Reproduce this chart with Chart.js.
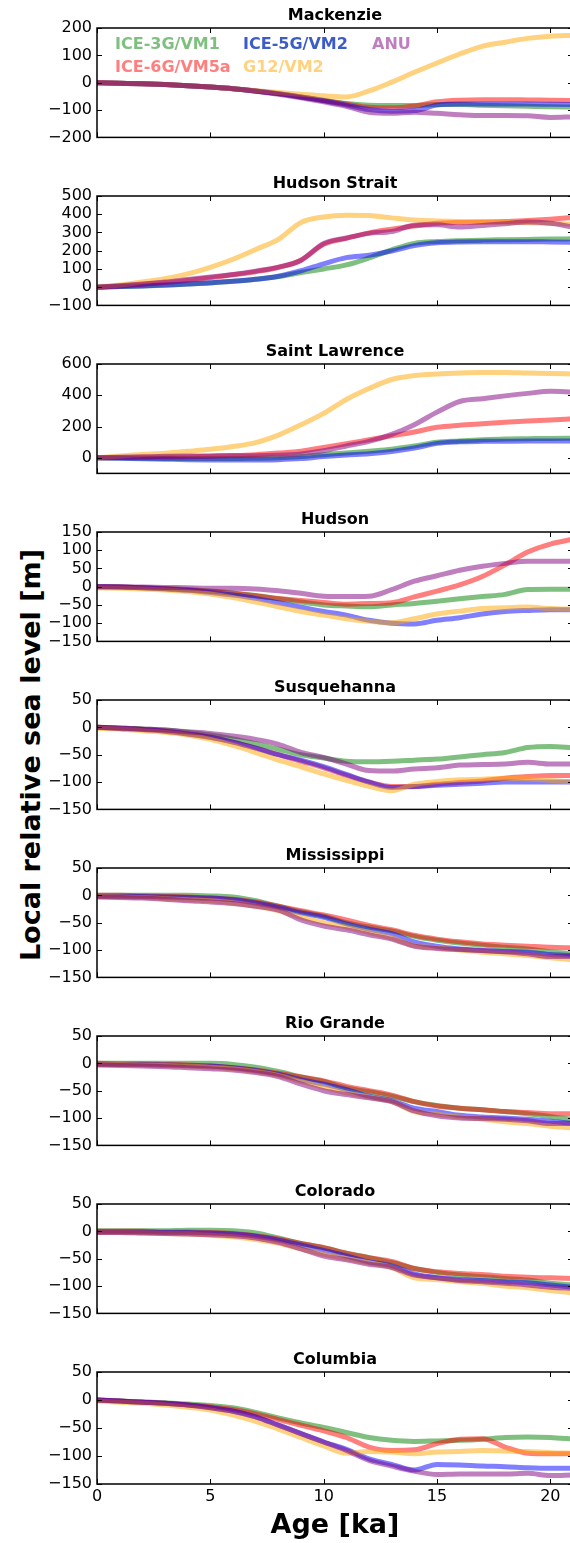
<!DOCTYPE html>
<html>
<head>
<meta charset="utf-8">
<script src="https://cdn.jsdelivr.net/npm/chart.js@4.4.1/dist/chart.umd.min.js"></script>
<style>
  html, body { margin: 0; padding: 0; background: #fff; }
  body { width: 570px; height: 1543px; position: relative; overflow: hidden; }
  canvas { position: absolute; left: 0; }
  #ylabel {
    position: absolute; left: 30px; top: 755px;
    font: bold 27px "DejaVu Sans"; white-space: nowrap;
    transform: translate(-50%, -50%) rotate(-90deg);
  }
</style>
</head>
<body>
<div id="ylabel">Local relative sea level [m]</div>
<script>
// ages in ka (shared x values)
const ages = [0, 1, 2, 3, 4, 5, 6, 7, 8, 9, 10, 11, 12, 13, 14, 15, 16, 17, 18, 19, 20, 21];
const xTicks = [0, 5, 10, 15, 20];

const models = ['ICE-3G/VM1', 'ICE-6G/VM5a', 'ICE-5G/VM2', 'G12/VM2', 'ANU'];

// Mackenzie
const mackIce3g = [0, -2, -4, -7, -11, -16, -22, -30, -40, -52, -64, -76, -82, -83, -83, -80, -80, -82, -84, -86, -88, -89];
const mackIce6g = [0, -2, -4, -7, -11, -16, -22, -30, -40, -52, -65, -78, -90, -92, -85, -70, -64, -62, -62, -63, -64, -65];
const mackIce5g = [0, -2, -4, -7, -11, -16, -22, -30, -40, -52, -66, -82, -98, -104, -102, -82, -78, -78, -78, -78, -79, -80];
const mackG12 = [0, -2, -4, -7, -11, -16, -22, -29, -36, -42, -48, -52, -30, 2, 38, 72, 105, 133, 148, 162, 170, 173];
const mackAnu = [0, -2, -4, -7, -11, -16, -22, -31, -42, -55, -70, -86, -108, -112, -108, -112, -117, -120, -120, -121, -127, -125];

// Hudson Strait
const hstrIce3g = [0, 3, 7, 11, 17, 23, 32, 43, 58, 80, 100, 122, 160, 205, 240, 250, 255, 258, 260, 262, 264, 265];
const hstrIce6g = [0, 7, 15, 25, 38, 52, 68, 85, 108, 148, 235, 268, 298, 318, 335, 350, 355, 357, 360, 366, 373, 382];
const hstrIce5g = [0, 3, 7, 12, 17, 24, 32, 43, 60, 90, 128, 162, 175, 198, 228, 243, 248, 249, 249, 249, 248, 247];
const hstrG12 = [0, 12, 29, 46, 73, 109, 153, 207, 262, 355, 385, 395, 393, 380, 368, 363, 360, 358, 356, 353, 350, 345];
const hstrAnu = [0, 8, 17, 28, 42, 56, 70, 88, 110, 148, 240, 270, 295, 305, 340, 342, 330, 338, 348, 358, 350, 330];

// Saint Lawrence
const stlIce3g = [0, -2, -3, -4, -5, -5, -5, -3, 0, 8, 20, 30, 42, 55, 75, 100, 108, 115, 120, 122, 124, 125];
const stlIce6g = [0, 2, 3, 5, 7, 10, 14, 20, 30, 42, 66, 90, 115, 140, 165, 195, 208, 218, 228, 236, 242, 250];
const stlIce5g = [0, -3, -6, -9, -12, -14, -15, -15, -12, -5, 8, 18, 25, 40, 62, 92, 102, 105, 106, 107, 107, 107];
const stlG12 = [0, 12, 21, 29, 41, 54, 72, 97, 145, 211, 284, 373, 443, 501, 526, 536, 542, 545, 545, 542, 540, 536];
const stlAnu = [0, 3, 6, 9, 11, 12, 13, 13, 16, 25, 45, 75, 105, 150, 212, 292, 360, 378, 396, 412, 425, 420];

// Hudson
const hudIce3g = [0, -1, -3, -5, -8, -12, -17, -24, -33, -42, -50, -53, -55, -50, -46, -40, -33, -27, -21, -8, -7, -7];
const hudIce6g = [0, -1, -3, -5, -9, -13, -18, -25, -32, -38, -43, -48, -46, -44, -28, -12, 5, 28, 60, 95, 117, 130];
const hudIce5g = [0, -1, -3, -6, -10, -16, -23, -32, -44, -56, -68, -78, -92, -100, -102, -92, -85, -75, -68, -65, -63, -63];
const hudG12 = [-3, -4, -6, -9, -13, -20, -30, -42, -55, -68, -78, -88, -95, -99, -88, -75, -67, -60, -58, -56, -60, -62];
const hudAnu = [0, 0, -1, -2, -3, -4, -4, -6, -11, -18, -26, -27, -26, -8, 15, 30, 45, 56, 64, 70, 70, 70];

// Susquehanna
const susIce3g = [0, -1, -3, -5, -9, -14, -21, -30, -40, -50, -56, -62, -63, -62, -60, -58, -54, -50, -46, -37, -35, -37];
const susIce6g = [0, -2, -4, -7, -12, -18, -27, -38, -50, -62, -74, -88, -100, -108, -108, -104, -101, -98, -93, -90, -88, -88];
const susIce5g = [0, -2, -4, -7, -12, -18, -27, -38, -50, -60, -72, -86, -100, -110, -108, -106, -104, -102, -100, -100, -100, -100];
const susG12 = [-2, -3, -6, -9, -14, -22, -33, -46, -60, -72, -85, -97, -108, -116, -104, -99, -96, -95, -93, -94, -97, -100];
const susAnu = [0, -1, -3, -5, -8, -11, -16, -22, -31, -46, -55, -67, -79, -80, -76, -74, -69, -68, -67, -64, -67, -67];

// Mississippi
const misIce3g = [0, 0, 0, 0, 0, -1, -3, -10, -20, -30, -38, -50, -58, -65, -75, -82, -87, -91, -95, -98, -103, -107];
const misIce6g = [0, 0, -1, -2, -3, -5, -7, -12, -20, -28, -36, -45, -55, -63, -73, -80, -85, -89, -91, -93, -95, -96];
const misIce5g = [-2, -2, -2, -3, -4, -5, -8, -14, -22, -32, -40, -52, -62, -70, -85, -93, -98, -101, -103, -104, -108, -110];
const misG12 = [-2, -3, -4, -6, -8, -10, -14, -20, -28, -40, -50, -58, -68, -78, -92, -96, -100, -104, -107, -110, -114, -118];
const misAnu = [-3, -4, -5, -7, -10, -12, -15, -20, -27, -45, -56, -63, -72, -80, -93, -97, -99, -101, -103, -107, -112, -112];

// Rio Grande
const rioIce3g = [0, 0, 0, 0, 0, 0, -2, -7, -15, -25, -33, -45, -52, -60, -70, -77, -82, -85, -88, -92, -97, -103];
const rioIce6g = [0, -1, -1, -2, -3, -5, -8, -12, -18, -25, -32, -42, -50, -58, -70, -78, -82, -85, -88, -90, -92, -92];
const rioIce5g = [-2, -2, -2, -3, -4, -5, -8, -13, -20, -30, -38, -48, -60, -68, -82, -88, -95, -98, -100, -102, -106, -110];
const rioG12 = [-2, -2, -3, -4, -5, -7, -10, -15, -22, -33, -44, -54, -62, -70, -88, -93, -98, -102, -107, -110, -115, -118];
const rioAnu = [-3, -4, -5, -6, -8, -10, -12, -17, -24, -38, -50, -57, -63, -70, -87, -96, -100, -101, -102, -105, -110, -110];

// Colorado
const colIce3g = [1, 1, 1, 1, 2, 2, 1, -3, -12, -22, -30, -40, -48, -57, -68, -75, -80, -83, -86, -89, -95, -98];
const colIce6g = [0, 0, 0, -1, -1, -2, -4, -8, -14, -22, -30, -40, -48, -55, -68, -74, -77, -79, -82, -84, -85, -86];
const colIce5g = [-1, -1, -1, -2, -2, -3, -5, -9, -16, -25, -35, -45, -56, -63, -78, -85, -88, -90, -92, -94, -98, -102];
const colG12 = [-2, -2, -3, -4, -5, -7, -10, -15, -22, -32, -42, -50, -58, -66, -85, -88, -92, -95, -100, -103, -108, -112];
const colAnu = [-2, -2, -3, -4, -5, -6, -8, -12, -20, -32, -45, -52, -60, -66, -80, -85, -90, -92, -95, -98, -102, -104];

// Columbia
const cbaIce3g = [0, -2, -3, -5, -7, -10, -14, -22, -32, -41, -49, -58, -67, -72, -74, -73, -72, -70, -67, -66, -67, -70];
const cbaIce6g = [0, -2, -4, -6, -9, -12, -17, -25, -35, -45, -55, -67, -84, -90, -89, -78, -70, -69, -84, -95, -96, -96];
const cbaIce5g = [0, -2, -4, -6, -9, -14, -20, -30, -45, -60, -75, -88, -105, -115, -125, -115, -116, -118, -119, -121, -122, -122];
const cbaG12 = [-2, -4, -6, -9, -13, -18, -27, -38, -52, -67, -82, -95, -92, -93, -96, -93, -92, -90, -91, -92, -94, -95];
const cbaAnu = [0, -2, -4, -6, -9, -14, -20, -30, -45, -60, -75, -90, -108, -118, -127, -133, -132, -132, -132, -131, -135, -134];

// y tick labels per panel
const ticksMack = [-200, -100, 0, 100, 200];
const ticksHstr = [-100, 0, 100, 200, 300, 400, 500];
const ticksStl = [0, 200, 400, 600];
const ticksHud = [-150, -100, -50, 0, 50, 100, 150];
const ticksLow = [-150, -100, -50, 0, 50];

const panels = [
  { title: 'Mackenzie', min: -200, max: 200, ticks: ticksMack, series: [mackIce3g, mackIce6g, mackIce5g, mackG12, mackAnu] },
  { title: 'Hudson Strait', min: -100, max: 500, ticks: ticksHstr, series: [hstrIce3g, hstrIce6g, hstrIce5g, hstrG12, hstrAnu] },
  { title: 'Saint Lawrence', min: -100, max: 600, ticks: ticksStl, series: [stlIce3g, stlIce6g, stlIce5g, stlG12, stlAnu] },
  { title: 'Hudson', min: -150, max: 150, ticks: ticksHud, series: [hudIce3g, hudIce6g, hudIce5g, hudG12, hudAnu] },
  { title: 'Susquehanna', min: -150, max: 50, ticks: ticksLow, series: [susIce3g, susIce6g, susIce5g, susG12, susAnu] },
  { title: 'Mississippi', min: -150, max: 50, ticks: ticksLow, series: [misIce3g, misIce6g, misIce5g, misG12, misAnu] },
  { title: 'Rio Grande', min: -150, max: 50, ticks: ticksLow, series: [rioIce3g, rioIce6g, rioIce5g, rioG12, rioAnu] },
  { title: 'Colorado', min: -150, max: 50, ticks: ticksLow, series: [colIce3g, colIce6g, colIce5g, colG12, colAnu] },
  { title: 'Columbia', min: -150, max: 50, ticks: ticksLow, series: [cbaIce3g, cbaIce6g, cbaIce5g, cbaG12, cbaAnu] }
];

const lineColors = ['rgba(0,128,0,0.5)', 'rgba(255,0,0,0.5)', 'rgba(0,0,255,0.5)', 'rgba(255,165,0,0.5)', 'rgba(128,0,128,0.5)'];
const legendColors = ['#7fbf7f', '#ff7f7f', '#3d5cc9', '#ffd27f', '#bf7fbf'];

Chart.defaults.font.family = '"DejaVu Sans"';
Chart.defaults.color = '#000';

const minus = v => String(v).replace('-', '\u2212');

// matplotlib style box with inward ticks on all sides
const frame = {
  id: 'frame',
  afterDatasetsDraw(chart) {
    const { ctx, chartArea: a, scales: { x, y } } = chart;
    ctx.save();
    ctx.strokeStyle = '#000';
    ctx.lineWidth = 1;
    ctx.beginPath();
    x.ticks.forEach(t => {
      const px = Math.round(x.getPixelForValue(t.value)) + 0.5;
      ctx.moveTo(px, a.bottom); ctx.lineTo(px, a.bottom - 5);
      ctx.moveTo(px, a.top); ctx.lineTo(px, a.top + 5);
    });
    y.ticks.forEach(t => {
      const py = Math.round(y.getPixelForValue(t.value)) + 0.5;
      ctx.moveTo(a.left, py); ctx.lineTo(a.left + 5, py);
      ctx.moveTo(a.right, py); ctx.lineTo(a.right - 5, py);
    });
    ctx.stroke();
    ctx.lineWidth = 1.5;
    ctx.strokeRect(a.left, a.top, a.right - a.left, a.bottom - a.top);
    ctx.restore();
  }
};

// two-row legend inside the first panel
const legendRows = [
  { x: 115, y: 45, idx: 0 }, { x: 243, y: 45, idx: 2 }, { x: 372, y: 45, idx: 4 },
  { x: 115, y: 68, idx: 1 }, { x: 243, y: 68, idx: 3 }
];
const textLegend = {
  id: 'textLegend',
  afterDraw(chart) {
    if (!chart.options.plugins.textLegend.show) return;
    const ctx = chart.ctx;
    ctx.save();
    ctx.font = 'bold 16px "DejaVu Sans"';
    ctx.textBaseline = 'middle';
    legendRows.forEach(r => {
      ctx.fillStyle = legendColors[r.idx];
      ctx.fillText(models[r.idx], r.x, r.y);
    });
    ctx.restore();
  }
};

const panelTop0 = 28, panelStep = 168, plotH = 112;

panels.forEach((p, i) => {
  const last = i === panels.length - 1;
  const top = panelTop0 + panelStep * i - 28;
  const h = last ? 1543 - top : 28 + plotH + 12;
  const canvas = document.createElement('canvas');
  canvas.width = 580; canvas.height = h;
  canvas.style.top = top + 'px';
  document.body.appendChild(canvas);

  new Chart(canvas, {
    type: 'line',
    data: {
      datasets: p.series.map((s, k) => ({
        label: models[k],
        data: s.map((v, j) => ({ x: ages[j], y: v })),
        borderColor: lineColors[k],
        borderWidth: 5,
        pointRadius: 0,
        fill: false,
        cubicInterpolationMode: 'monotone',
        order: 5 - k
      }))
    },
    options: {
      responsive: false,
      animation: false,
      layout: { padding: { left: 0, right: 7, top: 0, bottom: last ? 0 : 12 } },
      plugins: {
        legend: { display: false },
        tooltip: { enabled: false },
        title: {
          display: true, text: p.title, color: '#000', fullSize: false,
          font: { size: 16, weight: 'bold' },
          padding: { top: 6.5, bottom: 2.3 }
        },
        textLegend: { show: i === 0 }
      },
      scales: {
        x: {
          type: 'linear', min: 0, max: 21,
          afterBuildTicks: sc => { sc.ticks = xTicks.map(v => ({ value: v })); },
          afterFit: sc => { sc.height = last ? 59 : 0; },
          grid: { display: false, drawTicks: false },
          border: { display: false },
          ticks: { display: last, font: { size: 16 }, padding: 3, maxRotation: 0, autoSkip: false },
          title: {
            display: last, text: 'Age [ka]',
            font: { size: 27, weight: 'bold' },
            padding: { top: 0, bottom: 1 }
          }
        },
        y: {
          min: p.min, max: p.max,
          afterBuildTicks: sc => { sc.ticks = p.ticks.map(v => ({ value: v })); },
          afterFit: sc => { sc.width = 97; },
          grid: { display: false, drawTicks: false },
          border: { display: false },
          ticks: { font: { size: 16 }, padding: 5, autoSkip: false, callback: v => minus(v) }
        }
      }
    },
    plugins: [frame, textLegend]
  });
});
</script>
</body>
</html>
